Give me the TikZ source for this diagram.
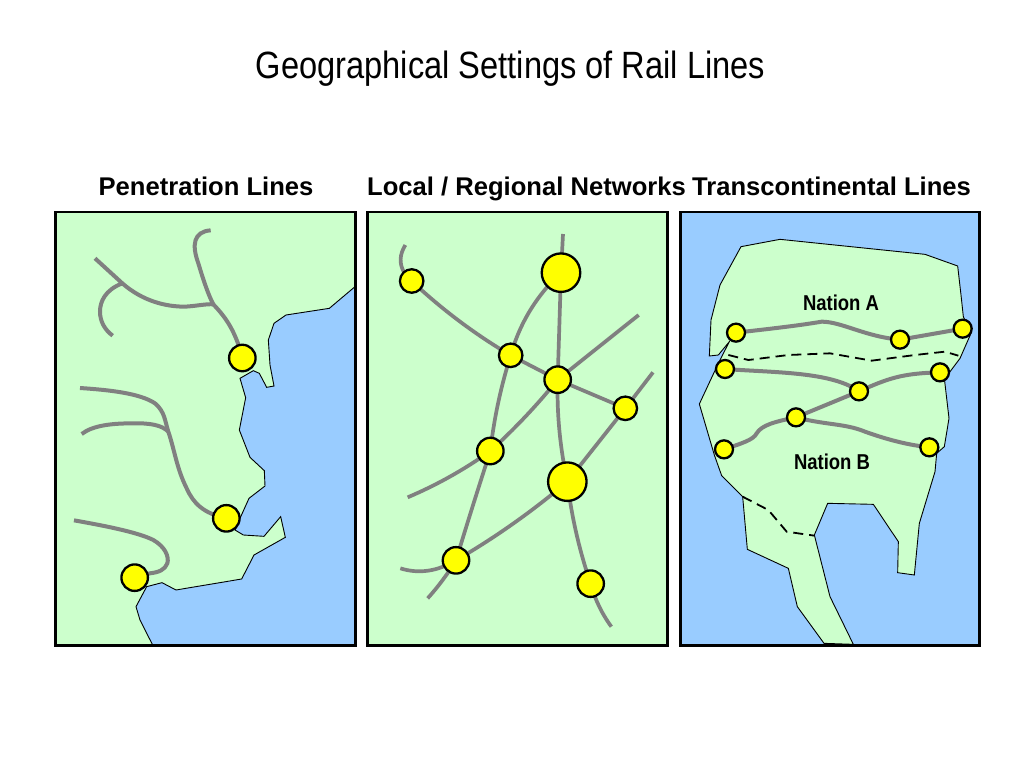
\documentclass[tikz,border=0pt]{standalone}
\usepackage{fontspec}
\usetikzlibrary{calc}
\setmainfont{Liberation Sans}
\definecolor{land}{RGB}{204,255,204}
\definecolor{sea}{RGB}{153,204,255}
\definecolor{rail}{RGB}{128,128,128}
\definecolor{stn}{RGB}{255,255,0}
\newcommand{\archrough}[4][railthin]{\draw[#1] (#2) .. controls ($(#2)!.667!(#3)$) and ($(#4)!.667!(#3)$) .. (#4);}
\tikzset{
  panel/.style={draw=black,line width=2.6pt},
  coast/.style={draw=black,line width=0.9pt,line join=miter},
  railline/.style={draw=rail,line width=4pt},
  railthin/.style={draw=rail,line width=3.7pt},
  railwide/.style={draw=rail,line width=4pt},
  border/.style={draw=black,line width=1.8pt,dash pattern=on 10pt off 6pt},
  stnM/.style={circle,draw=black,fill=stn,line width=2.3pt,inner sep=0pt,minimum size=23.5pt},
  stnL/.style={circle,draw=black,fill=stn,line width=2.3pt,inner sep=0pt,minimum size=26.5pt},
  stnX/.style={circle,draw=black,fill=stn,line width=2.3pt,inner sep=0pt,minimum size=38.5pt},
  stnT/.style={circle,draw=black,fill=stn,line width=2.3pt,inner sep=0pt,minimum size=18pt},
  heading/.style={font=\bfseries\fontsize{25.6}{30}\selectfont,inner sep=0pt,anchor=base},
  nation/.style={font=\bfseries\fontsize{21.5}{24}\selectfont,inner sep=0pt,xscale=.86,anchor=base},
  zoomed/.style={x=0.33333pt,y=-0.33333pt}
}
\begin{document}
\begin{tikzpicture}[x=1pt,y=-1pt]
\useasboundingbox (0,0) rectangle (1024,768);
\fill[white] (0,0) rectangle (1024,768);
\node[inner sep=0pt,anchor=base,font=\fontsize{38}{42}\selectfont,xscale=.858] (title) at (510.5,78) {Geographical Settings of Rail Lines};
\node[heading] (h1) at (206,195) {Penetration Lines};
\node[heading] (h2) at (526.5,195) {Local / Regional Networks};
\node[heading] (h3) at (831.5,195) {Transcontinental Lines};

% Panel 1
\begin{scope}[shift={(50,205)},zoomed]
\fill[land] (16,21) rectangle (917,1321);
\filldraw[fill=sea,coast] (915,245) -- (838,310) -- (708,330) -- (672,355) -- (655,405) -- (660,480) -- (672,543) -- (650,547) -- (628,505) -- (610,497) -- (570,520) -- (587,578) -- (568,675) -- (600,757) -- (643,797) -- (645,843) -- (597,880) -- (570,940) -- (555,975) -- (580,990) -- (642,994) -- (692,935) -- (706,997) -- (612,1050) -- (575,1122) -- (378,1155) -- (336,1133) -- (290,1145) -- (258,1205) -- (270,1245) -- (308,1320) -- (915,1320) -- cycle;
\coordinate (p1a) at (577,459);
\coordinate (p1b) at (529,940);
\coordinate (p1c) at (254,1118);
\coordinate (j1) at (490,298);
\coordinate (j2) at (217,235);
\coordinate (j3) at (355,680);
\draw[railline] (482,76) .. controls (430,80) and (425,120) .. (445,175) .. controls (460,225) and (475,270) .. (j1) .. controls (520,330) and (555,370) .. (p1a);
\draw[railline] (135,160) -- (j2) .. controls (280,290) and (350,305) .. (405,305) .. controls (440,303) and (470,296) .. (j1);
\draw[railline] (j2) .. controls (165,255) and (150,290) .. (150,320) .. controls (150,350) and (165,375) .. (188,392);
\draw[railline] (90,549) .. controls (180,555) and (270,565) .. (315,595) .. controls (345,620) and (345,650) .. (j3) .. controls (375,740) and (380,790) .. (410,850) .. controls (430,895) and (460,925) .. (p1b);
\draw[railline] (95,687) .. controls (130,660) and (190,655) .. (250,655) .. controls (300,654) and (335,660) .. (j3);
\draw[railline] (72,946) .. controls (150,960) and (260,980) .. (310,1005) .. controls (345,1025) and (358,1055) .. (352,1075) .. controls (345,1095) and (325,1102) .. (300,1105) -- (p1c);
\node[stnL] (np1a) at (p1a) {};
\node[stnL] (np1b) at (p1b) {};
\node[stnL] (np1c) at (p1c) {};
\draw[panel] (16,21) rectangle (917,1321);
\end{scope}

% Panel 2
\begin{scope}[shift={(362,205)},zoomed]
\fill[land] (16,21) rectangle (917,1321);
\coordinate (a) at (149,228);
\coordinate (b) at (597,203);
\coordinate (c) at (446,451);
\coordinate (d) at (587,524);
\coordinate (e) at (790,610);
\coordinate (f) at (385,738);
\coordinate (g) at (616,830);
\coordinate (h) at (282,1066);
\coordinate (i) at (686,1136);
\coordinate (t1) at (130,120);
\coordinate (t2) at (603,87);
\coordinate (t3) at (830,330);
\coordinate (t4) at (873,502);
\coordinate (t5) at (137,877);
\coordinate (t6) at (748,1265);
\coordinate (t7) at (115,1090);
\coordinate (t8) at (197,1180);
\draw[railthin] (t1) .. controls (112,150) and (112,175) .. (125,200) -- (a);
\draw[railthin] (t2) -- (b);
\archrough{a}{285,356}{c}
\archrough{b}{487,306}{c}
\draw[railthin] (b) -- (d);
\draw[railthin] (c) -- (d);
\draw[railthin] (d) -- (t3);
\draw[railthin] (d) -- (e);
\draw[railthin] (e) -- (t4);
\archrough{c}{401,595}{f}
\archrough{d}{494,639}{f}
\archrough{f}{269,821}{t5}
\archrough{d}{583,677}{g}
\draw[railthin] (g) -- (e);
\archrough{f}{331,904}{h}
\archrough{g}{459,963}{h}
\archrough{g}{635,987}{i}
\archrough{i}{705,1206}{t6}
\archrough{h}{198,1116}{t7}
\archrough{h}{244,1128}{t8}
\node[stnM] (na) at (a) {};
\node[stnX] (nb) at (b) {};
\node[stnM] (nc) at (c) {};
\node[stnL] (nd) at (d) {};
\node[stnM] (ne) at (e) {};
\node[stnL] (nf) at (f) {};
\node[stnX] (ng) at (g) {};
\node[stnL] (nh) at (h) {};
\node[stnL] (ni) at (i) {};
\draw[panel] (16,21) rectangle (917,1321);
\end{scope}

% Panel 3
\begin{scope}[shift={(675,205)},zoomed]
\fill[sea] (16,21) rectangle (914,1321);
\filldraw[fill=land,coast] (198,125) -- (315,103) -- (750,148) -- (848,183) -- (858,270) -- (865,335) -- (888,385) -- (855,460) -- (825,500) -- (808,520) -- (822,640) -- (808,725) -- (785,745) -- (780,800) -- (733,955) -- (718,1110) -- (668,1103) -- (670,1010) -- (595,898) -- (458,895) -- (418,990) -- (465,1175) -- (535,1318) -- (447,1315) -- (367,1205) -- (340,1090) -- (217,1033) -- (203,875) -- (140,812) -- (118,750) -- (73,597) -- (130,475) -- (163,410) -- (130,450) -- (103,453) -- (108,345) -- (135,240) -- cycle;
\coordinate (s1) at (183,383);
\coordinate (s2) at (675,404);
\coordinate (s3) at (863,371);
\coordinate (s4) at (150,492);
\coordinate (s5) at (795,502);
\coordinate (s6) at (552,559);
\coordinate (s7) at (363,637);
\coordinate (s8) at (147,733);
\coordinate (s9) at (763,727);
\draw[railwide] (s1) .. controls (280,372) and (370,362) .. (440,350) .. controls (500,350) and (570,395) .. (s2);
\draw[railwide] (s2) -- (s3);
\draw[railwide] (s4) .. controls (300,503) and (470,500) .. (s6);
\draw[railwide] (s6) .. controls (640,520) and (680,505) .. (s5);
\draw[railwide] (s6) -- (s7);
\draw[railwide] (s8) .. controls (200,715) and (235,705) .. (245,685) .. controls (260,660) and (300,650) .. (s7);
\draw[railwide] (s7) .. controls (450,660) and (510,655) .. (570,680) .. controls (640,705) and (700,720) .. (s9);
\draw[border] (160,450) -- (220,465) -- (340,450) -- (465,445) -- (590,467) -- (720,450) -- (810,440) -- (850,452);
\draw[border] (203,875) -- (280,915) -- (335,980) -- (418,992);
\node[stnT] (n1) at (s1) {};
\node[stnT] (n2) at (s2) {};
\node[stnT] (n3) at (s3) {};
\node[stnT] (n4) at (s4) {};
\node[stnT] (n5) at (s5) {};
\node[stnT] (n6) at (s6) {};
\node[stnT] (n7) at (s7) {};
\node[stnT] (n8) at (s8) {};
\node[stnT] (n9) at (s9) {};
\node[nation] (nA) at (498,316) {Nation A};
\node[nation] (nB) at (471,793) {Nation B};
\draw[panel] (16,21) rectangle (914,1321);
\end{scope}
\end{tikzpicture}
\end{document}
